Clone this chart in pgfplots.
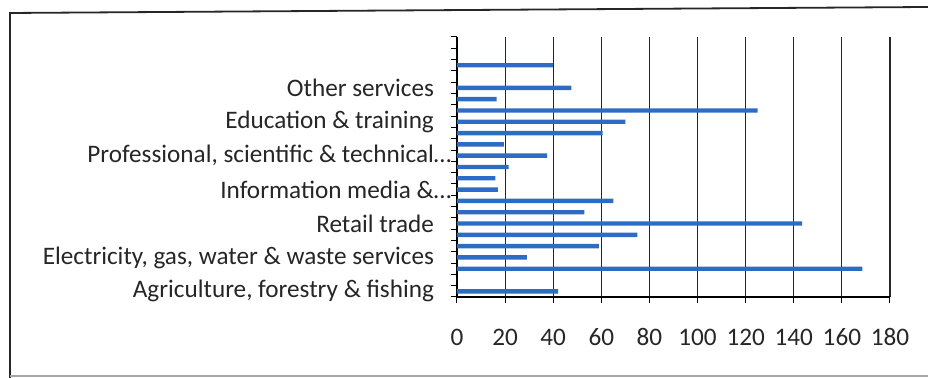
\documentclass[border=0pt]{standalone}
\usepackage{fontspec}
\setmainfont{Carlito}
\usepackage{pgfplots}
\pgfplotsset{compat=1.18}
\definecolor{barblue}{RGB}{44,108,196}
\begin{document}
\begin{tikzpicture}
\useasboundingbox (0,0) rectangle (464pt,189pt);
\draw[line width=0.9pt, black!85] (5pt,0) -- (5pt,182.5pt) -- (464pt,185.5pt);
\draw[line width=0.6pt, black!35] (5pt,1pt) -- (464pt,1pt);
\begin{axis}[
  at={(228.5pt,40.5pt)}, anchor=south west,
  scale only axis, width=216.5pt, height=130pt,
  xmin=0, xmax=180, ymin=-0.5, ymax=22.5,
  xbar, bar width=2.2pt,
  axis x line*=bottom, axis y line*=left,
  axis line style={line width=0.6pt, black},
  xtick={0,20,...,180},
  xmajorgrids, grid style={line width=0.55pt, black!85},
  tick align=outside, major tick length=3pt,
  tick style={line width=0.5pt, black},
  ytick={-0.5,0.5,...,22.5}, yticklabels={},
  extra y ticks={0,3,6,9,12,15,18},
  extra y tick labels={Agriculture{,} forestry \& fishing,
    Electricity{,} gas{,} water \& waste services,
    Retail trade,
    Information media \&\rlap{…},
    Professional{,} scientific \& technical\rlap{…},
    Education \& training,
    Other services},
  extra y tick style={major tick length=0pt, yticklabel style={xshift=-8pt}},
  ticklabel style={font=\fontsize{12.6}{14}\selectfont, text=black!85},
  xticklabel style={text height=8.5pt, text depth=0pt, yshift=-9pt},
  /pgf/number format/assume math mode=true,
  clip=false,
]
\addplot[fill=barblue, draw=none] coordinates {
 (42,0) (0,1) (168.5,2) (29,3) (59,4) (75,5) (143.5,6) (53,7) (65,8)
 (17,9) (16,10) (21.5,11) (37.5,12) (19.5,13) (60.5,14) (70,15)
 (125,16) (16.5,17) (47.5,18) (0,19) (40,20) (0,21) (0,22)
};
\end{axis}
\end{tikzpicture}
\end{document}
